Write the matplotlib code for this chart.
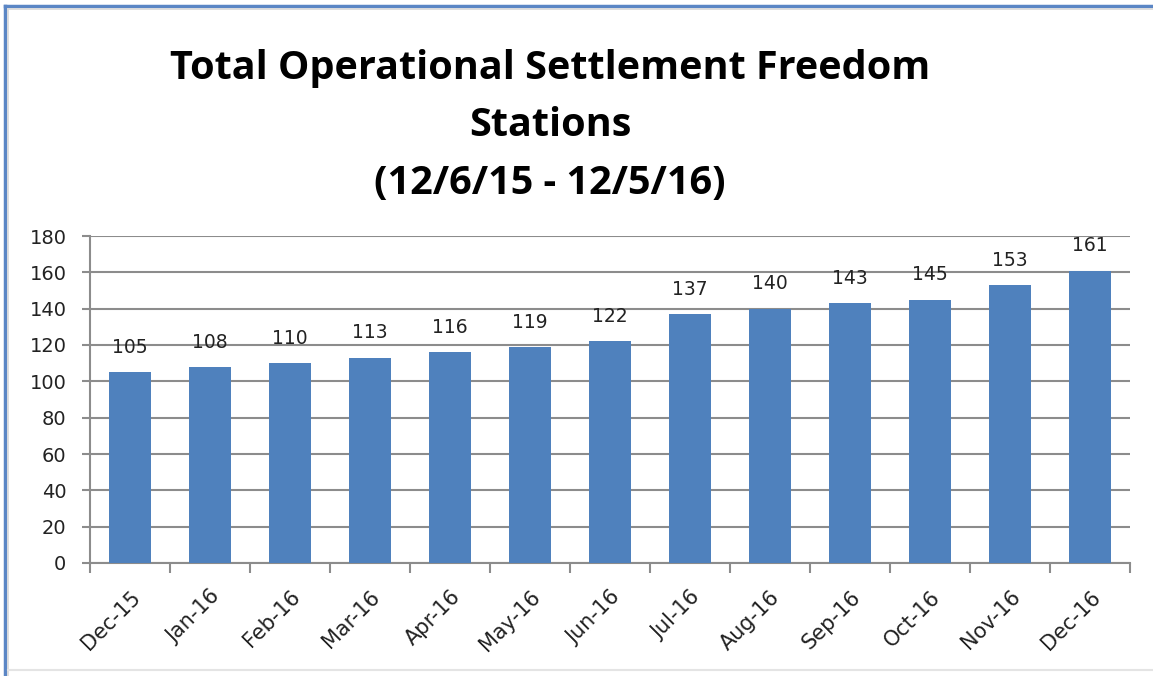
import matplotlib
matplotlib.use("Agg")
import matplotlib.pyplot as plt
from matplotlib.lines import Line2D
import numpy as np

categories = ["Dec-15", "Jan-16", "Feb-16", "Mar-16", "Apr-16", "May-16", "Jun-16",
              "Jul-16", "Aug-16", "Sep-16", "Oct-16", "Nov-16", "Dec-16"]
values = [105, 108, 110, 113, 116, 119, 122, 137, 140, 143, 145, 153, 161]
yticks = [0, 20, 40, 60, 80, 100, 120, 140, 160, 180]
title_lines = ["Total Operational Settlement Freedom", "Stations", "(12/6/15 - 12/5/16)"]

W, H = 1153, 676
fig = plt.figure(figsize=(W / 100, H / 100), dpi=100)
fig.patch.set_facecolor("white")

def fx(px):
    return px / W

def fy(py):
    return 1 - py / H

# outer frame (blue top and left, light grey inner)
fig.add_artist(Line2D([fx(5), fx(1153)], [fy(6), fy(6)], transform=fig.transFigure,
                      color="#5B86C5", linewidth=2.5))
fig.add_artist(Line2D([fx(5), fx(5)], [fy(6), fy(676)], transform=fig.transFigure,
                      color="#5B86C5", linewidth=2.5))
fig.add_artist(Line2D([fx(8), fx(1153)], [fy(8.5), fy(8.5)], transform=fig.transFigure,
                      color="#D8D8D8", linewidth=1.2))
fig.add_artist(Line2D([fx(7.5), fx(7.5)], [fy(8.5), fy(676)], transform=fig.transFigure,
                      color="#D8D8D8", linewidth=1.2))
fig.add_artist(Line2D([fx(8), fx(1153)], [fy(670), fy(670)], transform=fig.transFigure,
                      color="#E4E4E4", linewidth=1.5))

ax = fig.add_axes([fx(90), fy(563), (1130 - 90) / W, (563 - 236) / H])
x = np.arange(len(categories))
ax.bar(x, values, width=0.53, color="#4F81BD", zorder=3)
ax.set_xlim(-0.5, len(categories) - 0.5)
ax.set_ylim(0, 180)
ax.set_yticks(yticks)
ax.set_yticklabels([str(v) for v in yticks], fontsize=14, color="#222222")
ax.yaxis.grid(True, color="#8C8C8C", linewidth=1.5, zorder=0)
ax.set_axisbelow(True)
for s in ["top", "right"]:
    ax.spines[s].set_visible(False)
for s in ["left", "bottom"]:
    ax.spines[s].set_color("#8C8C8C")
    ax.spines[s].set_linewidth(1.5)
ax.tick_params(axis="y", length=6, width=1.5, color="#8C8C8C", pad=11)

ax.set_xticks(x)
ax.set_xticklabels(categories, rotation=45, ha="right", rotation_mode="anchor",
                   fontsize=15, color="#222222")
ax.tick_params(axis="x", which="major", length=0, pad=17)
ax.set_xticks(np.arange(len(categories) + 1) - 0.5, minor=True)
ax.tick_params(axis="x", which="minor", length=7, width=1.5, color="#8C8C8C")

for xi, v in zip(x, values):
    ax.annotate(str(v), (xi, v), xytext=(0, 11), textcoords="offset points",
                ha="center", va="bottom", fontsize=13.5, color="#222222")

ys = [68, 125, 183]
for line, yy in zip(title_lines, ys):
    fig.text(fx(550), fy(yy), line, ha="center", va="center", fontsize=28.5,
             fontweight="bold", family="Open Sans", color="black")

fig.savefig("out.png", dpi=100)
